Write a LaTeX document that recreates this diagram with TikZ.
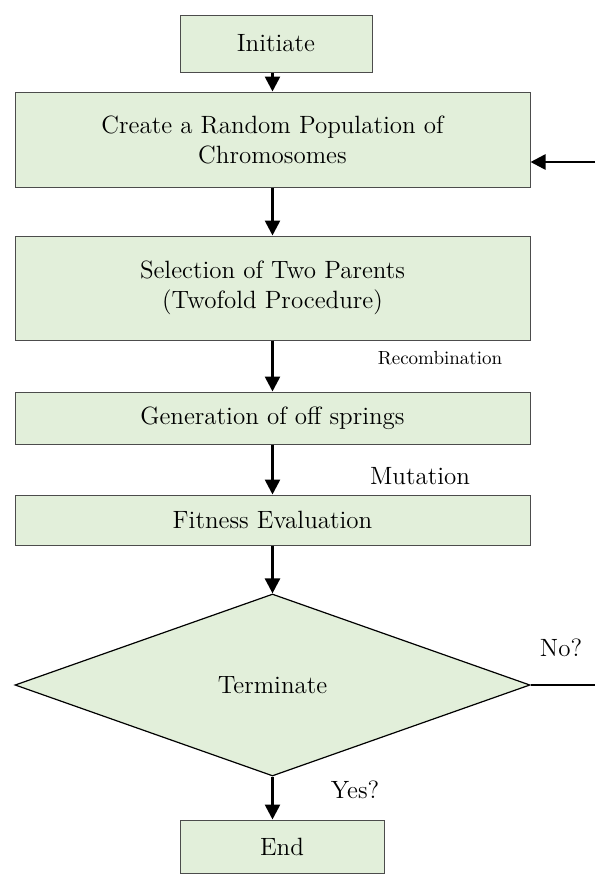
\documentclass[tikz,border=0pt]{standalone}
\usepackage{tikz}
\usepackage{xcolor}
\usetikzlibrary{arrows.meta,positioning,shapes.geometric,calc}
\definecolor{boxgreen}{HTML}{E2EFDA}

\begin{document}
\begin{tikzpicture}[
    x=0.5pt, y=-0.5pt,
    box/.style={rectangle, draw=black!70, line width=0.5pt, fill=boxgreen, inner sep=0pt, align=center, font=\fontsize{12.5}{15}\selectfont},
    decision/.style={diamond, draw=black, line width=0.6pt, fill=boxgreen, inner sep=0pt, aspect=2.83, font=\fontsize{12.5}{15}\selectfont},
    arrow/.style={-{Triangle[length=7.5pt,width=7.5pt]}, line width=1.3pt},
    lbl/.style={font=\fontsize{12.5}{15}\selectfont}
]
    \useasboundingbox (0,0) rectangle (595,879);

    % Start
    \node[box, minimum width=96pt, minimum height=28.5pt] (init) at (276,43.5) {Initiate};

    % Population
    \node[box, minimum width=257.5pt, minimum height=47.5pt] (create) at (272.5,139.5) {Create a Random Population of\\Chromosomes};

    % Parents
    \node[box, minimum width=257.5pt, minimum height=52pt] (select) at (272.5,288) {Selection of Two Parents\\(Twofold Procedure)};

    % Offspring
    \node[box, minimum width=257.5pt, minimum height=26pt] (gen) at (272.5,418) {Generation of off springs};

    % Fitness
    \node[box, minimum width=257.5pt, minimum height=25pt] (fit) at (272.5,520) {Fitness Evaluation};

    % Check
    \node[decision, minimum width=257.5pt, minimum height=91pt] (term) at (272.5,685) {Terminate};

    % Stop
    \node[box, minimum width=102pt, minimum height=26.5pt] (stop) at (282,846.5) {End};

    % Labels
    \node[font=\fontsize{9.5}{12}\selectfont] (recomb) at (440,358) {Recombination};
    \node[lbl] (mut) at (420,476) {Mutation};
    \node[lbl] (no) at (561,648) {No?};
    \node[lbl] (yes) at (355,790) {Yes?};

    % Loop ends
    \coordinate (loopin) at (595,162);
    \coordinate (loopout) at (595,685);

    % Arrows
    \draw[arrow] (init.south -| create.north) -- (create.north);
    \draw[arrow] (create) -- (select);
    \draw[arrow] (select) -- (gen);
    \draw[arrow] (gen) -- (fit);
    \draw[arrow] (fit) -- (term);
    \draw[arrow] (term.south) -- (term.south |- stop.north);
    \draw[line width=1.3pt] (term.east) -- (loopout);
    \draw[arrow] (loopin) -- (loopin -| create.east);

\end{tikzpicture}
\end{document}
